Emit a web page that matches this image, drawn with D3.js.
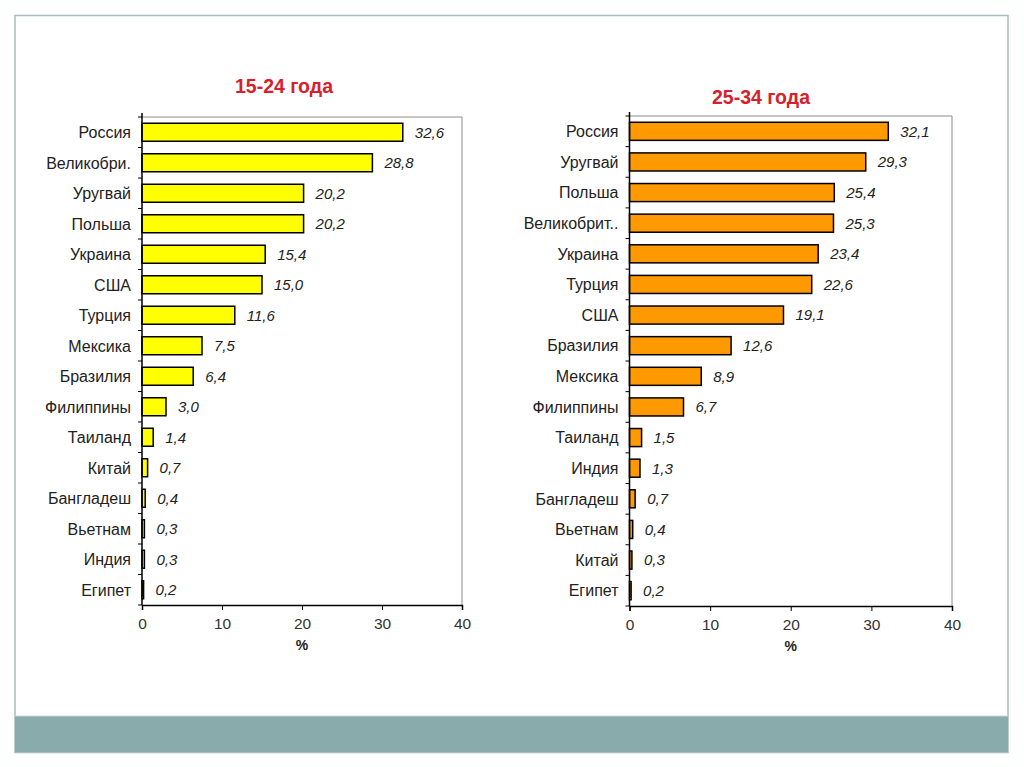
<!DOCTYPE html>
<html><head><meta charset="utf-8">
<script src="https://cdn.jsdelivr.net/npm/d3@7"></script>
<style>
html,body{margin:0;padding:0;background:#fdfefe;}
svg{display:block;}
</style></head>
<body>
<svg id="c" width="1024" height="767"></svg>
<script>
const titleLeft = "15-24 года";
const catsLeft = ["Россия","Великобри.","Уругвай","Польша","Украина","США","Турция","Мексика","Бразилия","Филиппины","Таиланд","Китай","Бангладеш","Вьетнам","Индия","Египет"];
const valsLeft = [32.6,28.8,20.2,20.2,15.4,15.0,11.6,7.5,6.4,3.0,1.4,0.7,0.4,0.3,0.3,0.2];
const titleRight = "25-34 года";
const catsRight = ["Россия","Уругвай","Польша","Великобрит..","Украина","Турция","США","Бразилия","Мексика","Филиппины","Таиланд","Индия","Бангладеш","Вьетнам","Китай","Египет"];
const valsRight = [32.1,29.3,25.4,25.3,23.4,22.6,19.1,12.6,8.9,6.7,1.5,1.3,0.7,0.4,0.3,0.2];
const xTicks = [0,10,20,30,40];
const axisTitle = "%";

const FONT = "Liberation Sans, Arial, sans-serif";
const svg = d3.select("#c");
// slide frame
svg.append("rect").attr("x",15).attr("y",15.5).attr("width",993).attr("height",737)
  .attr("fill","#ffffff").attr("stroke","#a9bcbc").attr("stroke-width",1.5);
svg.append("rect").attr("x",15).attr("y",716).attr("width",993).attr("height",36)
  .attr("fill","#8aabab");
svg.append("line").attr("x1",15).attr("x2",1008).attr("y1",716).attr("y2",716)
  .attr("stroke","#c9dada").attr("stroke-width",1);

function chart(cfg){
  const {x0,x1,y0,y1,cats,vals,fill,title,titleY} = cfg;
  const g = svg.append("g");
  const x = d3.scaleLinear().domain([0,40]).range([x0,x1]);
  const y = d3.scaleBand().domain(cats).range([y0,y1]).paddingInner(0.41).paddingOuter(0.205);
  const yb = d3.scaleBand().domain(cats).range([y0,y1]);
  // plot border top/right
  g.append("path").attr("d",`M${x0},${y0}H${x1}V${y1}`).attr("fill","none")
    .attr("stroke","#8c8c8c").attr("stroke-width",1);
  // bars
  g.selectAll("rect.bar").data(cats).enter().append("rect")
    .attr("x",x(0)).attr("y",d=>y(d))
    .attr("width",(d,i)=>Math.max(0.8,x(vals[i])-x(0)))
    .attr("height",y.bandwidth())
    .attr("fill",fill).attr("stroke","#000").attr("stroke-width",1.5);
  // value labels
  g.selectAll("text.val").data(cats).enter().append("text")
    .attr("x",(d,i)=>x(vals[i])+12).attr("y",d=>y(d)+y.bandwidth()/2)
    .attr("dy","0.36em").attr("font-family",FONT)
    .attr("font-size",15).attr("font-style","italic").attr("fill","#222")
    .text((d,i)=>vals[i].toFixed(1).replace(".",","));
  // y axis
  const ya = g.append("g");
  ya.append("line").attr("x1",x0).attr("x2",x0).attr("y1",y0-4).attr("y2",y1)
    .attr("stroke","#000").attr("stroke-width",1.5);
  ya.selectAll("line.t").data(d3.range(cats.length+1)).enter().append("line")
    .attr("x1",x0-4).attr("x2",x0).attr("y1",i=>y0+i*yb.step()).attr("y2",i=>y0+i*yb.step())
    .attr("stroke","#000").attr("stroke-width",1);
  ya.selectAll("text").data(cats).enter().append("text")
    .attr("x",x0-11).attr("y",d=>yb(d)+yb.bandwidth()/2).attr("dy","0.36em")
    .attr("text-anchor","end").attr("font-family",FONT)
    .attr("font-size",16).attr("fill","#222").text(d=>d);
  // x axis
  const xa = g.append("g").attr("transform",`translate(0,${y1})`)
    .call(d3.axisBottom(x).tickValues(xTicks).tickSize(5).tickPadding(8).tickFormat(d3.format("d")));
  xa.select(".domain").attr("stroke","#000").attr("stroke-width",1.5);
  xa.selectAll(".tick line").attr("stroke","#000");
  xa.selectAll(".tick text").attr("font-family",FONT)
    .attr("font-size",15.5).attr("fill","#333");
  g.append("text").attr("x",(x0+x1)/2).attr("y",y1+45).attr("text-anchor","middle")
    .attr("font-family",FONT).attr("font-weight","bold")
    .attr("font-size",14).attr("fill","#222").text(axisTitle);
  // title
  g.append("text").attr("x",cfg.titleX).attr("y",titleY).attr("text-anchor","middle")
    .attr("font-family","Liberation Sans Narrow, Arial Narrow, Liberation Sans, sans-serif")
    .attr("font-weight","bold").attr("font-size",19.5).attr("fill","#d8202c").text(title);
}

chart({x0:142,x1:462,y0:117,y1:605,cats:catsLeft,vals:valsLeft,fill:"#ffff00",title:titleLeft,titleX:284,titleY:93});
chart({x0:629.5,x1:952,y0:116,y1:606,cats:catsRight,vals:valsRight,fill:"#ff9900",title:titleRight,titleX:761,titleY:104});
</script>
</body></html>
